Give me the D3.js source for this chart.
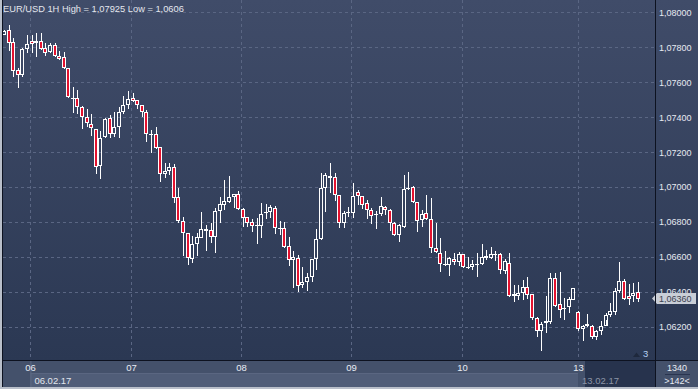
<!DOCTYPE html>
<html>
<head>
<meta charset="utf-8">
<script src="https://cdn.jsdelivr.net/npm/d3@7"></script>
<style>
body { margin: 0; background: #fff; }
svg { display: block; font-family: "Liberation Sans", Arial, sans-serif; }
</style>
</head>
<body>
<div id="chart"></div>
<script>
// EUR/USD hourly candles, 05.02.17 evening -> 13.02.17
var open = [1.07871,1.07899,1.07829,1.07670,1.07640,1.07789,1.07836,1.07823,1.07836,1.07794,
  1.07775,1.07813,1.07750,1.07743,1.07680,1.07502,1.07508,1.07460,1.07402,1.07359,
  1.07332,1.07122,1.07284,1.07393,1.07301,1.07342,1.07428,1.07468,1.07508,1.07496,
  1.07468,1.07428,1.07301,1.07301,1.07227,1.07074,1.07093,1.07116,1.06940,1.06806,
  1.06734,1.06587,1.06673,1.06709,1.06749,1.06753,1.06711,1.06863,1.06896,1.06915,
  1.06940,1.06958,1.06875,1.06826,1.06801,1.06782,1.06778,1.06849,1.06854,1.06877,
  1.06763,1.06763,1.06661,1.06581,1.06591,1.06436,1.06457,1.06482,1.06585,1.06700,
  1.06992,1.07062,1.07055,1.06952,1.06791,1.06849,1.06852,1.06969,1.06948,1.06909,
  1.06868,1.06843,1.06843,1.06883,1.06868,1.06791,1.06723,1.06772,1.06986,1.06998,
  1.06912,1.06810,1.06849,1.06814,1.06652,1.06620,1.06556,1.06552,1.06585,1.06568,
  1.06614,1.06543,1.06539,1.06556,1.06556,1.06606,1.06591,1.06615,1.06614,1.06520,
  1.06566,1.06375,1.06375,1.06394,1.06428,1.06385,1.06247,1.06176,1.06218,1.06224,
  1.06476,1.06327,1.06299,1.06310,1.06352,1.06285,1.06184,1.06213,1.06203,1.06142,
  1.06174,1.06203,1.06266,1.06281,1.06403,1.06462,1.06377,1.06377,1.06399];
var high = [1.07898,1.07925,1.07853,1.07681,1.07796,1.07871,1.07871,1.07880,1.07884,1.07823,
  1.07823,1.07823,1.07781,1.07771,1.07682,1.07574,1.07555,1.07462,1.07445,1.07418,
  1.07334,1.07322,1.07397,1.07412,1.07428,1.07456,1.07523,1.07551,1.07540,1.07499,
  1.07471,1.07441,1.07326,1.07345,1.07230,1.07135,1.07139,1.07130,1.06992,1.06826,
  1.06738,1.06719,1.06734,1.06858,1.06782,1.06791,1.06877,1.06944,1.07040,1.07062,
  1.06960,1.06977,1.06877,1.06828,1.06814,1.06820,1.06906,1.06900,1.06896,1.06891,
  1.06806,1.06797,1.06715,1.06634,1.06610,1.06539,1.06508,1.06588,1.06759,1.07081,
  1.07080,1.07135,1.07078,1.06954,1.06862,1.06885,1.07021,1.06982,1.06950,1.06925,
  1.06877,1.06862,1.06944,1.06891,1.06876,1.06801,1.06787,1.07068,1.07084,1.07005,
  1.06914,1.06868,1.06954,1.06935,1.06791,1.06705,1.06633,1.06597,1.06623,1.06629,
  1.06617,1.06600,1.06581,1.06623,1.06671,1.06638,1.06657,1.06633,1.06621,1.06585,
  1.06623,1.06438,1.06438,1.06466,1.06482,1.06388,1.06252,1.06227,1.06375,1.06505,
  1.06508,1.06514,1.06363,1.06371,1.06420,1.06290,1.06211,1.06270,1.06208,1.06180,
  1.06231,1.06276,1.06336,1.06419,1.06568,1.06470,1.06442,1.06451,1.06453];
var low = [1.07868,1.07781,1.07630,1.07569,1.07632,1.07769,1.07769,1.07743,1.07785,1.07752,
  1.07769,1.07746,1.07727,1.07674,1.07512,1.07425,1.07418,1.07334,1.07345,1.07292,
  1.07074,1.07047,1.07279,1.07279,1.07284,1.07282,1.07416,1.07445,1.07489,1.07445,
  1.07402,1.07256,1.07197,1.07219,1.07030,1.07049,1.07068,1.06906,1.06795,1.06604,
  1.06552,1.06566,1.06604,1.06705,1.06634,1.06677,1.06620,1.06795,1.06868,1.06909,
  1.06881,1.06870,1.06768,1.06768,1.06743,1.06671,1.06705,1.06814,1.06820,1.06730,
  1.06724,1.06652,1.06547,1.06419,1.06396,1.06419,1.06405,1.06453,1.06524,1.06698,
  1.06858,1.06965,1.06921,1.06767,1.06767,1.06825,1.06823,1.06896,1.06872,1.06814,
  1.06787,1.06760,1.06833,1.06839,1.06749,1.06719,1.06686,1.06767,1.06982,1.06906,
  1.06743,1.06768,1.06810,1.06620,1.06620,1.06514,1.06547,1.06489,1.06552,1.06547,
  1.06534,1.06528,1.06524,1.06485,1.06553,1.06581,1.06588,1.06577,1.06499,1.06499,
  1.06371,1.06342,1.06352,1.06352,1.06358,1.06237,1.06142,1.06060,1.06164,1.06217,
  1.06311,1.06250,1.06237,1.06279,1.06349,1.06174,1.06119,1.06199,1.06127,1.06123,
  1.06151,1.06237,1.06256,1.06266,1.06394,1.06352,1.06323,1.06342,1.06342];
var close = [1.07896,1.07823,1.07666,1.07640,1.07789,1.07817,1.07817,1.07834,1.07789,1.07769,
  1.07813,1.07750,1.07735,1.07680,1.07514,1.07508,1.07460,1.07399,1.07365,1.07336,
  1.07116,1.07279,1.07389,1.07301,1.07345,1.07428,1.07468,1.07502,1.07492,1.07468,
  1.07429,1.07301,1.07296,1.07221,1.07074,1.07093,1.07116,1.06935,1.06805,1.06734,
  1.06591,1.06673,1.06715,1.06757,1.06757,1.06711,1.06862,1.06902,1.06919,1.06940,
  1.06958,1.06872,1.06820,1.06795,1.06778,1.06776,1.06843,1.06854,1.06883,1.06763,
  1.06759,1.06654,1.06581,1.06597,1.06434,1.06455,1.06482,1.06585,1.06700,1.06992,
  1.07068,1.07049,1.06952,1.06791,1.06849,1.06859,1.06948,1.06948,1.06896,1.06868,
  1.06835,1.06837,1.06891,1.06866,1.06791,1.06724,1.06782,1.06986,1.06995,1.06912,
  1.06806,1.06845,1.06814,1.06648,1.06625,1.06556,1.06551,1.06591,1.06568,1.06614,
  1.06539,1.06534,1.06556,1.06555,1.06600,1.06591,1.06614,1.06618,1.06521,1.06575,
  1.06375,1.06385,1.06394,1.06428,1.06381,1.06247,1.06174,1.06213,1.06231,1.06476,
  1.06319,1.06295,1.06308,1.06356,1.06419,1.06184,1.06205,1.06203,1.06142,1.06174,
  1.06203,1.06266,1.06289,1.06403,1.06462,1.06358,1.06358,1.06394,1.06360];

var dayLabels = ["06", "07", "08", "09", "10", "13"];
var dayPos = [5.75, 27.7, 51.7, 75.6, 99.7, 125.0];   // candle index of each day start
var priceTicks = [1.062, 1.064, 1.066, 1.068, 1.070, 1.072, 1.074, 1.076, 1.078, 1.080];
var lastPrice = 1.0636;
var titleText = "EUR/USD 1H High = 1,07925 Low = 1,0606";
var firstDate = "06.02.17", lastDate = "13.02.17";
var volText = "1340", zoomText = ">142<", pageCount = "3";

var width = 698, height = 389;
var plotRight = 655, plotBottom = 360;

var x = d3.scaleLinear().domain([0, open.length - 1]).range([4, 637.7]);
var y = d3.scaleLinear().domain([1.062, 1.080]).range([326.5, 12.4]);
var fmt = function(v) { return d3.format(".5f")(v).replace(".", ","); };

var svg = d3.select("#chart").append("svg")
  .attr("width", width)
  .attr("height", height);

var defs = svg.append("defs");
var grad = defs.append("linearGradient").attr("id", "bg").attr("x1", 0).attr("y1", 0).attr("x2", 0).attr("y2", 1);
grad.append("stop").attr("offset", "0%").attr("stop-color", "#404c69");
grad.append("stop").attr("offset", "100%").attr("stop-color", "#2b3853");

// backgrounds
svg.append("rect").attr("x", 0).attr("y", 0).attr("width", width).attr("height", plotBottom).attr("fill", "url(#bg)");
svg.append("rect").attr("x", 0).attr("y", plotBottom).attr("width", width).attr("height", height - plotBottom).attr("fill", "#44516b");
svg.append("rect").attr("x", x(dayPos[0])).attr("y", 373.5).attr("width", x(dayPos[5]) - x(dayPos[0])).attr("height", 14)
  .attr("fill", "#505d78");
svg.append("line").attr("x1", x(dayPos[0]) + 0.5).attr("x2", x(dayPos[0]) + 0.5).attr("y1", 361).attr("y2", 387)
  .attr("stroke", "#5f6b86");
svg.append("line").attr("x1", x(dayPos[0])).attr("x2", x(dayPos[5])).attr("y1", 373.5).attr("y2", 373.5)
  .attr("stroke", "#5a6681");
svg.append("rect").attr("x", x(dayPos[5]) + 7).attr("y", 361).attr("width", plotRight - x(dayPos[5]) - 7).attr("height", 26)
  .attr("fill", "#27334d");

// grid
svg.append("g").selectAll("line").data(priceTicks).enter().append("line")
  .attr("x1", 3).attr("x2", plotRight - 1)
  .attr("y1", function(d) { return Math.round(y(d)) + 0.5; })
  .attr("y2", function(d) { return Math.round(y(d)) + 0.5; })
  .attr("stroke", "#5a6683").attr("stroke-dasharray", "3,3");
svg.append("g").selectAll("line").data(dayPos).enter().append("line")
  .attr("x1", function(d) { return Math.round(x(d)) + 0.5; })
  .attr("x2", function(d) { return Math.round(x(d)) + 0.5; })
  .attr("y1", 0).attr("y2", plotBottom)
  .attr("stroke", "#5a6683").attr("stroke-dasharray", "3,3");

// candles
var candles = d3.range(open.length).map(function(i) {
  return { i: i, o: open[i], h: high[i], l: low[i], c: close[i] };
});
var g = svg.append("g");
candles.forEach(function(d) {
  var px = Math.round(x(d.i));
  var top = Math.round(y(Math.max(d.o, d.c)));
  var bot = Math.round(y(Math.min(d.o, d.c)));
  if (bot - top < 1) bot = top + 1;
  var wx = px + 0.5;
  g.append("line").attr("x1", wx).attr("x2", wx).attr("y1", Math.round(y(d.h))).attr("y2", top)
    .attr("stroke", "#ffffff");
  g.append("line").attr("x1", wx).attr("x2", wx).attr("y1", bot).attr("y2", Math.round(y(d.l)))
    .attr("stroke", "#ffffff");
  g.append("rect")
    .attr("x", px - 1.5).attr("y", top + 0.5)
    .attr("width", 3).attr("height", bot - top - 1 > 0 ? bot - top - 1 : 0.01)
    .attr("fill", d.c >= d.o ? "none" : "#e3122f")
    .attr("stroke", "#ffffff").attr("stroke-width", 1);
});

// title
svg.append("text").attr("x", 3).attr("y", 12).attr("fill", "#e4e7ee")
  .attr("font-size", "9.3px").text(titleText);

// right axis
svg.append("g").selectAll("text").data(priceTicks).enter().append("text")
  .attr("x", 659).attr("y", function(d) { return y(d) + 3.5; })
  .attr("fill", "#e6eaf2").attr("font-size", "9px")
  .text(fmt);

// last price marker
var ly = y(lastPrice);
svg.append("path")
  .attr("d", "M652," + ly + " L657," + (ly - 5.5) + " L696," + (ly - 5.5) + " L696," + (ly + 5.5) + " L657," + (ly + 5.5) + " Z")
  .attr("fill", "#c9ced7");
svg.append("text").attr("x", 659).attr("y", ly + 3.5).attr("fill", "#3b4150")
  .attr("font-size", "9px").text(fmt(lastPrice));

// frame lines
svg.append("line").attr("x1", 0).attr("x2", width).attr("y1", plotBottom + 0.5).attr("y2", plotBottom + 0.5).attr("stroke", "#0d1220");
svg.append("line").attr("x1", plotRight + 0.5).attr("x2", plotRight + 0.5).attr("y1", 0).attr("y2", height).attr("stroke", "#0d1220");
svg.append("line").attr("x1", 2.5).attr("x2", 2.5).attr("y1", 0).attr("y2", height).attr("stroke", "#0d1220");
svg.append("rect").attr("x", 0).attr("y", 0).attr("width", 2).attr("height", height).attr("fill", "#b9bfca");
svg.append("rect").attr("x", 0).attr("y", 387).attr("width", width).attr("height", 2).attr("fill", "#b9bfca");

// day labels
svg.append("g").selectAll("text").data(dayPos).enter().append("text")
  .attr("x", function(d) { return Math.round(x(d)) + 0.5; })
  .attr("y", 371).attr("text-anchor", "middle")
  .attr("fill", "#e8ecf4").attr("font-size", "9.5px")
  .text(function(d, i) { return dayLabels[i]; });
svg.append("text").attr("x", x(dayPos[0]) + 4).attr("y", 384).attr("fill", "#e2e6ee")
  .attr("font-size", "9.5px").text(firstDate);
svg.append("text").attr("x", x(dayPos[5]) + 4).attr("y", 384).attr("fill", "#8c94a6")
  .attr("font-size", "9.5px").text(lastDate);

// bottom-right counters
svg.append("text").attr("x", 677).attr("y", 371).attr("text-anchor", "middle").attr("fill", "#e8ecf4")
  .attr("font-size", "9px").text(volText);
svg.append("line").attr("x1", 665).attr("x2", 690).attr("y1", 374.5).attr("y2", 374.5).attr("stroke", "#2a3550");
svg.append("text").attr("x", 677).attr("y", 384).attr("text-anchor", "middle").attr("fill", "#e8ecf4")
  .attr("font-size", "9px").text(zoomText);

// page marker
svg.append("path").attr("d", "M633,357 L636.5,352.5 L640,357 Z").attr("fill", "#1e283c");
svg.append("text").attr("x", 643).attr("y", 357).attr("fill", "#b5d0f2").attr("font-size", "9.5px").text(pageCount);
</script>
</body>
</html>
